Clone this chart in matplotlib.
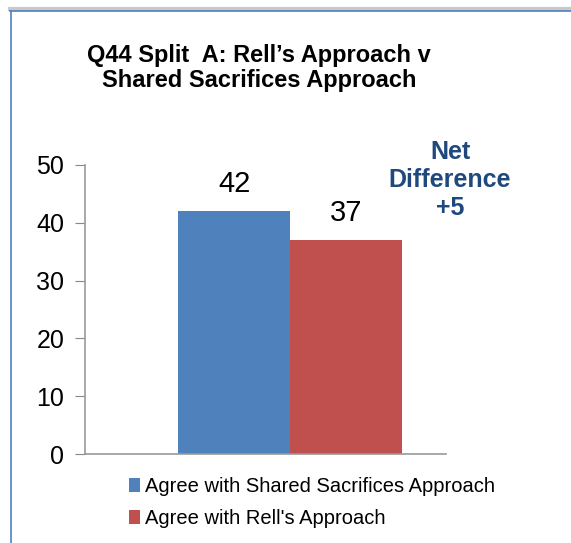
import matplotlib.pyplot as plt
from matplotlib.lines import Line2D
from matplotlib.patches import Patch

plt.rcParams['font.family'] = ['Liberation Sans', 'DejaVu Sans']

# data
series = ["Agree with Shared Sacrifices Approach", "Agree with Rell's Approach"]
values = [42, 37]
colors = ['#4f81bd', '#c0504d']
yticks = [0, 10, 20, 30, 40, 50]

W, H = 571, 543
fig = plt.figure(figsize=(W / 100, H / 100), dpi=100)
fig.patch.set_facecolor('white')

# outer frame (top and left edges visible)
fig.add_artist(Line2D([10 / W, 1], [1 - 9 / H, 1 - 9 / H], color='#c8c8c8', lw=3, transform=fig.transFigure))
fig.add_artist(Line2D([10 / W, 1], [1 - 11 / H, 1 - 11 / H], color='#4f81bd', lw=1.2, transform=fig.transFigure))
fig.add_artist(Line2D([11 / W, 11 / W], [0, 1 - 11 / H], color='#4f81bd', lw=1.2, transform=fig.transFigure))

# axes: left spine x=85, right end x=446, y0=454, y50=165
ax = fig.add_axes([85 / W, 1 - 454 / H, (446 - 85) / W, (454 - 165) / H])
x = [0, 1]
bars = ax.bar(x, values, width=1.0, color=colors)
ax.set_xlim(-1.33, 1.89)
ax.set_ylim(0, 50)
ax.set_yticks(yticks)
ax.set_xticks([])
ax.tick_params(axis='y', labelsize=18, length=7, color='#888888', pad=8)
for s in ['top', 'right']:
    ax.spines[s].set_visible(False)
for s in ['left', 'bottom']:
    ax.spines[s].set_color('#999999')
    ax.spines[s].set_linewidth(1.2)

for xi, v in zip(x, values):
    ax.text(xi, v + 2.3, str(v), ha='center', va='bottom', fontsize=21)

fig.text(259 / W, 1 - 68 / H, "Q44 Split  A: Rell\u2019s Approach v\nShared Sacrifices Approach",
         ha='center', va='center', fontsize=17, fontweight='bold', linespacing=1.1)

fig.text(450 / W, 1 - 180 / H, "Net\nDifference\n+5", ha='center', va='center',
         fontsize=18, fontweight='bold', color='#1f497d', linespacing=1.2)

handles = [Patch(facecolor=c) for c in colors]
fig.legend(handles, series, loc='upper left', bbox_to_anchor=(121 / W, 1 - 469 / H),
           frameon=False, fontsize=14.5, handlelength=0.55, handleheight=0.7,
           handletextpad=0.25, labelspacing=0.65, borderaxespad=0)

fig.savefig('out.png', dpi=100)
